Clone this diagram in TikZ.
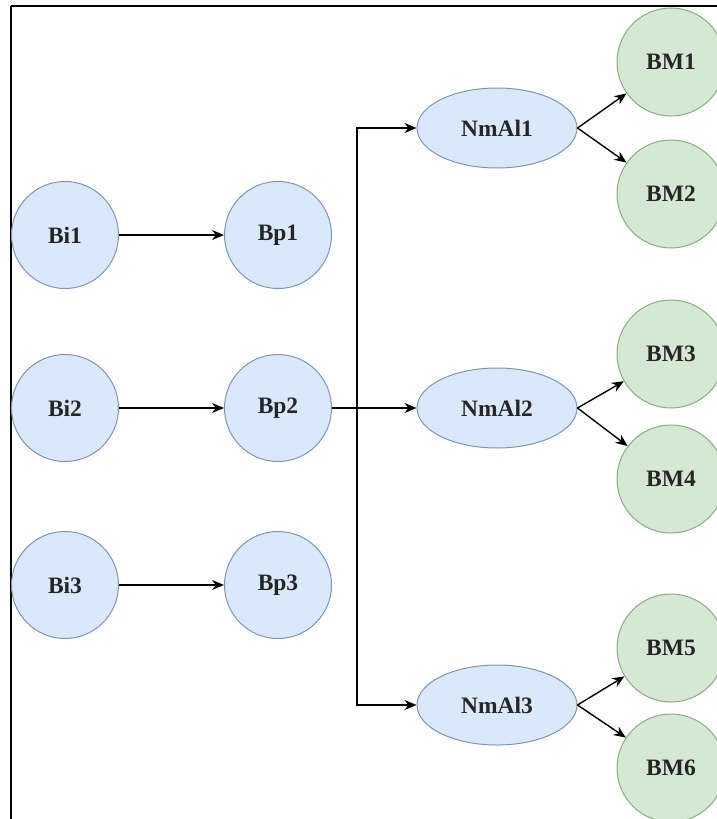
\documentclass[tikz,border=0pt]{standalone}
\usepackage{fontspec}
\setmainfont{Liberation Serif}
\usetikzlibrary{arrows.meta,shapes.geometric}
\definecolor{bfill}{HTML}{DAE8FC}
\definecolor{bline}{HTML}{7F94B5}
\definecolor{gfill}{HTML}{D5E8D4}
\definecolor{gline}{HTML}{8AAA7F}
\tikzset{
  lbl/.style={font=\fontsize{23.5}{28}\selectfont\bfseries,text=black!85},
  bcirc/.style={circle,draw=bline,fill=bfill,line width=1pt,minimum size=107pt,inner sep=0pt,lbl},
  gcirc/.style={circle,draw=gline,fill=gfill,line width=1pt,minimum size=108pt,inner sep=0pt,lbl},
  bell/.style={ellipse,draw=bline,fill=bfill,line width=1pt,minimum width=160pt,minimum height=80pt,inner sep=0pt,lbl},
  conn/.style={line width=1.4pt,-{Stealth[length=12pt,width=10pt]}}
}
\begin{document}
\begin{tikzpicture}[x=1pt,y=-1pt]
\useasboundingbox (0,0) rectangle (716,819);
\fill[white] (0,0) rectangle (716,819);
\draw[line width=2pt] (11,6) -- (740,6);
\draw[line width=2pt] (11,6) -- (11,840);
\node[bcirc] (Bi1) at (65,235) {Bi1};
\node[bcirc] (Bp1) at (278,235) {Bp1};
\node[bcirc] (Bi2) at (65,408) {Bi2};
\node[bcirc] (Bp2) at (278,408) {Bp2};
\node[bcirc] (Bi3) at (65,585) {Bi3};
\node[bcirc] (Bp3) at (278,585) {Bp3};
\node[bell] (N1) at (497,128) {NmAl1};
\node[bell] (N2) at (497,408) {NmAl2};
\node[bell] (N3) at (497,705) {NmAl3};
\node[gcirc] (BM1) at (671,62) {BM1};
\node[gcirc] (BM2) at (671,194) {BM2};
\node[gcirc] (BM3) at (671,354) {BM3};
\node[gcirc] (BM4) at (671,479) {BM4};
\node[gcirc] (BM5) at (671,648) {BM5};
\node[gcirc] (BM6) at (671,768) {BM6};
\coordinate (J) at (357,408);
\draw[conn] (Bi1) -- (Bp1);
\draw[conn] (Bi2) -- (Bp2);
\draw[conn] (Bi3) -- (Bp3);
\draw[conn] (Bp2) -- (N2);
\draw[conn] (J) |- (N1);
\draw[conn] (J) |- (N3);
\draw[conn] (N1.east) -- (BM1);
\draw[conn] (N1.east) -- (BM2);
\draw[conn] (N2.east) -- (BM3);
\draw[conn] (N2.east) -- (BM4);
\draw[conn] (N3.east) -- (BM5);
\draw[conn] (N3.east) -- (BM6);
\end{tikzpicture}
\end{document}
